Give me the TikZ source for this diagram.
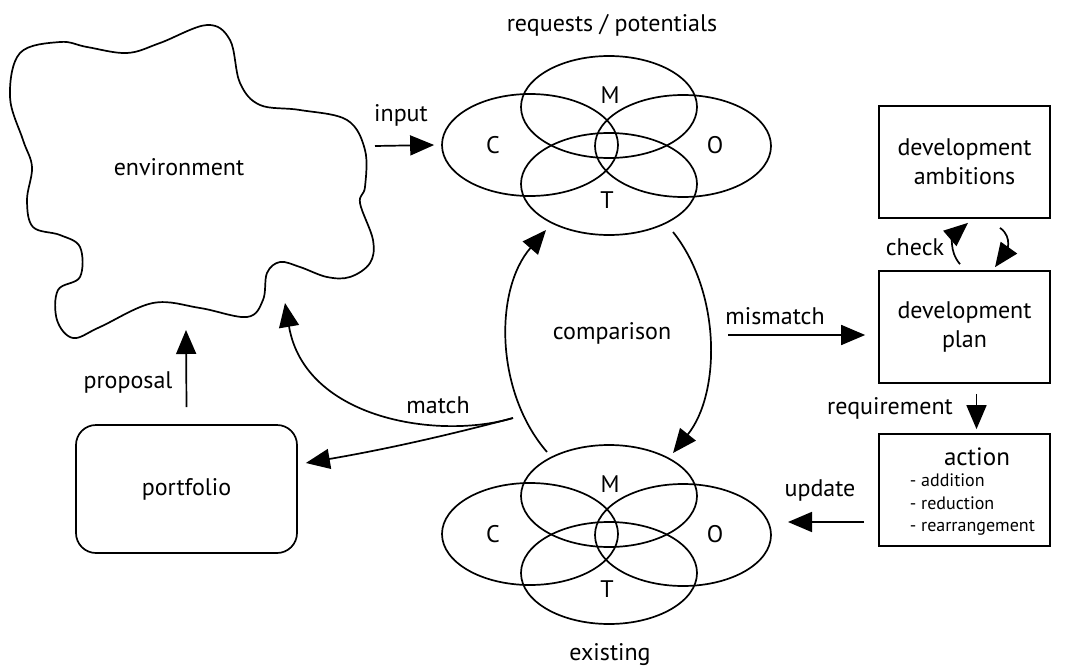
\documentclass[tikz,border=0pt]{standalone}
\usepackage{fontspec}
\setmainfont{PT Sans}
\usetikzlibrary{positioning,arrows.meta,shapes.geometric}

\begin{document}
\begin{tikzpicture}[x=1pt, y=-1pt, line width=1.7pt,
    font=\fontsize{24}{29}\selectfont,
    set/.style={draw, ellipse, minimum width=176pt, minimum height=102pt, inner sep=0pt},
    box/.style={draw, minimum width=171pt, minimum height=112pt, inner sep=0pt, align=center},
    arr/.style={-{Triangle[length=24pt, width=20pt]}},
    small/.style={font=\fontsize{18}{21}\selectfont, anchor=base west, inner sep=0pt}]

\useasboundingbox (0,0) rectangle (1065,666);

% environment cloud
\draw plot[smooth cycle, tension=0.6] coordinates {
    (10,97) (20,53) (60,42) (87,47) (127,53) (160,43) (207,25) (230,40)
    (240,83) (260,105) (300,110) (347,120) (365,150) (365,187) (360,203)
    (373,240) (370,263) (350,277) (327,277) (300,267) (280,262) (267,273)
    (263,300) (247,317) (200,308) (153,303) (100,327) (73,338) (57,320)
    (58,290) (80,277) (80,247) (60,235) (33,227) (27,200) (32,167) (23,140)};
\node (environment) at (179,167) {environment};

% the two C/M/O/T sets
\foreach \set/\dy in {req/0, ex/389} {
    \node[set] (\set_C) at (530,145+\dy) {};
    \node[set] (\set_M) at (609,107+\dy) {};
    \node[set] (\set_O) at (683,146+\dy) {};
    \node[set] (\set_T) at (609,184+\dy) {};
    \node at (493,145+\dy) {C};
    \node at (610,95+\dy) {M};
    \node at (715,145+\dy) {O};
    \node at (607,200+\dy) {T};
}
\node (requests) at (612,25) {requests / potentials};
\node (existing) at (610,655) {existing};
\node (comparison) at (612,333) {comparison};

\node[draw, rounded corners=20pt, minimum width=221pt, minimum height=128pt] (portfolio) at (186.5,489) {portfolio};

\node[box] (ambitions) at (964.5,162) {development\\ambitions};
\node[box] (plan) at (964.5,327) {development\\plan};
\node[box] (action) at (964.5,490) {};
\node[font=\fontsize{25}{29}\selectfont] (action_title) at (977,457) {action};
\node[small] (action_add) at (909,486) {- addition};
\node[small] (action_red) at (909,509) {- reduction};
\node[small] (action_rea) at (909,531) {- rearrangement};

\coordinate (env_out) at (375,146);
\coordinate (env_in) at (285,303);
\coordinate (proposal_in) at (186,330);
\coordinate (cmp_out) at (728,335);
\coordinate (match_out) at (513,418);
\coordinate (req_out) at (673,232);
\coordinate (ex_in) at (673,453);
\coordinate (ex_out) at (547,452);
\coordinate (req_in) at (546,230);
\coordinate (update_in) at (788,522);

\draw[arr] (env_out) -- ([xshift=-7pt]req_C.west);
\draw[arr] ([yshift=17pt]portfolio.north) -- (proposal_in);
\draw[arr] (req_out) .. controls +(48,60) and +(48,-60) .. (ex_in);
\draw[arr] (ex_out) .. controls +(-52,-60) and +(-52,60) .. (req_in);
\draw[arr] (match_out) .. controls (440,440) and (305,420) .. (env_in);
\draw[arr] (match_out) .. controls (430,440) and (370,452) .. ([xshift=8pt, yshift=26pt]portfolio.east);
\draw[arr] (cmp_out) -- ([xshift=-13pt, yshift=-8pt]plan.west);
\draw[arr] ([xshift=12pt, yshift=-10pt]plan.south) -- ([xshift=12pt, yshift=4pt]action.north);
\draw[arr] ([xshift=-14pt, yshift=-32pt]action.west) -- (update_in);
\draw[arr] ([xshift=-4.5pt, yshift=6pt]plan.north)
    .. controls +(-12,-14) and +(-14,12) .. ([xshift=3.5pt, yshift=-4pt]ambitions.south);
\draw[arr] ([xshift=35.5pt, yshift=-9pt]ambitions.south)
    .. controls +(14,10) and +(10,-14) .. ([xshift=30.5pt, yshift=3pt]plan.north);

\node (input) at (401,115) {input};
\node (proposal) at (128,382) {proposal};
\node (match) at (438,405) {match};
\node (mismatch) at (775,316) {mismatch};
\node (update) at (820,490) {update};
\node (requirement) at (890,408) {requirement};
\node (check) at (915,247) {check};

\end{tikzpicture}
\end{document}
